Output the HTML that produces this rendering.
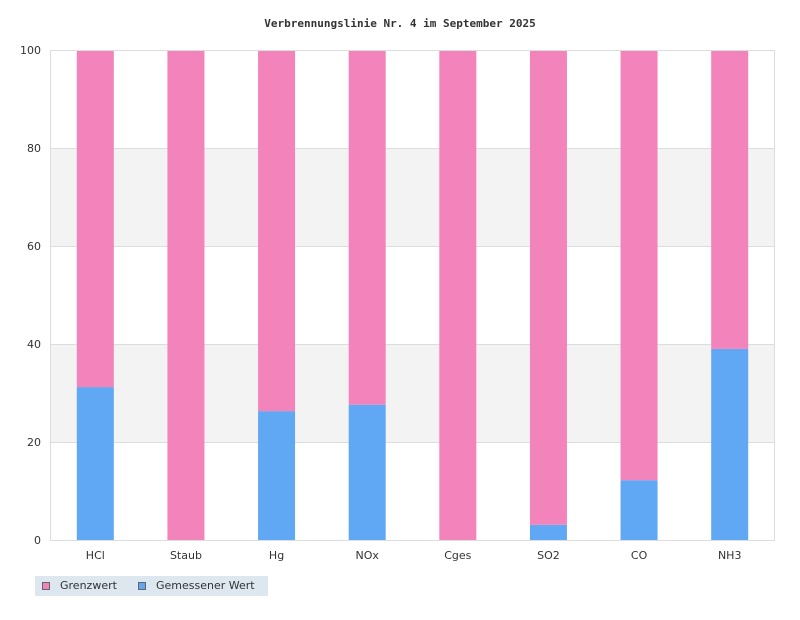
<!DOCTYPE html>
<html><head><meta charset="utf-8"><style>
body{margin:0;background:#fff;}
svg text{font-family:"DejaVu Sans","Liberation Sans",sans-serif;font-size:11px;fill:#333;}
</style></head><body>
<svg id="chart" width="800" height="615" xmlns="http://www.w3.org/2000/svg">
<text x="400" y="27" text-anchor="middle" style="font-family:'DejaVu Sans Mono','Liberation Mono',monospace;font-weight:bold;font-size:11px">Verbrennungslinie Nr. 4 im September 2025</text>
<g id="grid"></g><g id="bars"></g><g id="axes"></g>
<g>
<rect x="35" y="576" width="233" height="20" fill="#dce7f0"/>
<g><rect x="42.5" y="582.5" width="7" height="7" fill="#f383bb" stroke="#666"/><text x="60" y="589">Grenzwert</text></g>
<g><rect x="138.5" y="582.5" width="7" height="7" fill="#60a8f4" stroke="#666"/><text x="156" y="589">Gemessener Wert</text></g>
</g>
</svg>
<script>
const categories=["HCl","Staub","Hg","NOx","Cges","SO2","CO","NH3"];
const measured=[31.2,0,26.3,27.6,0,3.1,12.2,39.0];
const limitRemainder=[68.8,100,73.7,72.4,100,96.9,87.8,61.0];
const yTicks=[0,20,40,60,80,100];
const NS="http://www.w3.org/2000/svg";
const L=50,R=775,T=50,B=540,yMax=100;
const y=v=>B-(v/yMax)*(B-T);
const bw=(R-L)/categories.length;
const x=i=>L+bw*(i+0.5);
function mk(tag,attrs,parent){const e=document.createElementNS(NS,tag);for(const k in attrs)e.setAttribute(k,attrs[k]);parent.appendChild(e);return e;}
const grid=document.getElementById('grid'),bars=document.getElementById('bars'),axes=document.getElementById('axes');
for(let i=0;i<yTicks.length-1;i++){
  if(i%2===1){const r=mk('rect',{x:L,y:y(yTicks[i+1]),width:R-L,height:y(yTicks[i])-y(yTicks[i+1]),fill:'#f3f3f3'},grid);
  
  }
}
yTicks.forEach(t=>{
  const l=mk('line',{x1:L,x2:R,y1:y(t)+0.5,y2:y(t)+0.5,stroke:'#ddd'},grid);
  
  
  const tx=mk('text',{x:L-9,y:y(t)+4,'text-anchor':'end'},axes);tx.textContent=t;
  
  
});
const frame=mk('rect',{x:L+0.5,y:T+0.5,width:R-L-1,height:B-T,fill:'none',stroke:'#ddd'},axes);


const w=37;
categories.forEach((c,i)=>{
  const m=measured[i],p=limitRemainder[i];
  const b1=mk('rect',{x:x(i)-w/2,y:y(m),width:w,height:B-y(m),fill:'#60a8f4'},bars);
  
  
  const b2=mk('rect',{x:x(i)-w/2,y:y(m+p),width:w,height:y(m)-y(m+p),fill:'#f383bb'},bars);
  
  
  const tx=mk('text',{x:x(i),y:B+19,'text-anchor':'middle'},axes);tx.textContent=c;
  
  
});
</script>
</body></html>
